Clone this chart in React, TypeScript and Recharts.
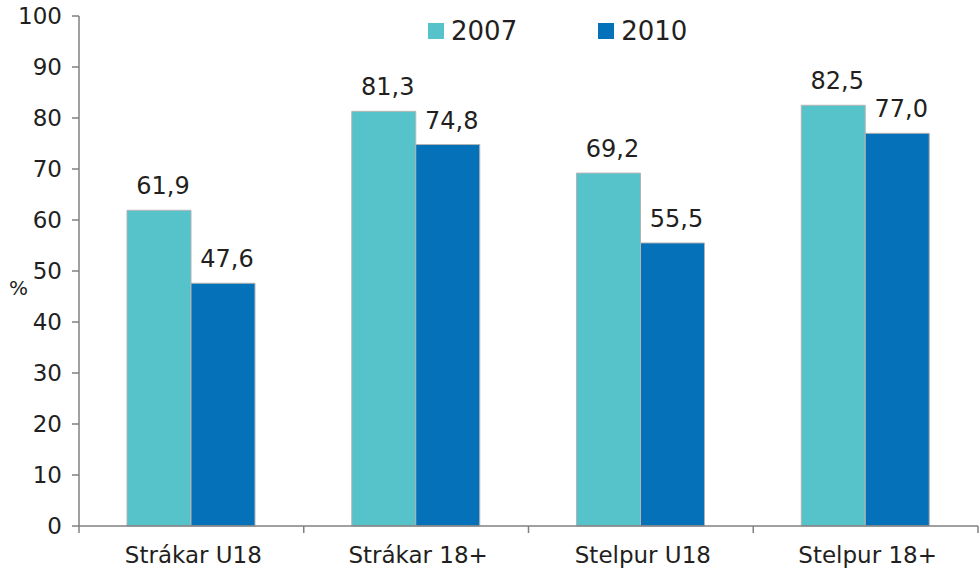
import React from 'react';
import { BarChart, Bar, XAxis, YAxis, LabelList, Legend } from 'recharts';

const categories = ['Strákar U18', 'Strákar 18+', 'Stelpur U18', 'Stelpur 18+'];
const values2007 = [61.9, 81.3, 69.2, 82.5];
const values2010 = [47.6, 74.8, 55.5, 77.0];
const yTicks = [0, 10, 20, 30, 40, 50, 60, 70, 80, 90, 100];
const seriesNames = ['2007', '2010'];
const seriesColors = ['#56C3CB', '#0571B8'];

const data = categories.map((c, i) => ({ name: c, y2007: values2007[i], y2010: values2010[i] }));

const W = 979;
const H = 579;
const PLOT_LEFT = 79;
const PLOT_RIGHT = 978;
const FONT = 'DejaVu Sans, sans-serif';
const TEXT = '#231f20';
const AXIS = '#808080';

const fmt = (v: any) => Number(v).toFixed(1).replace('.', ',');

const halfBand = (PLOT_RIGHT - PLOT_LEFT) / categories.length / 2;

const XTick = (props: any) => {
  const { x, y, payload, index } = props;
  const lines = [x - halfBand];
  if (index === categories.length - 1) lines.push(x + halfBand);
  return (
    <g>
      {lines.map((lx, i) => (
        <line key={i} x1={lx} x2={lx} y1={y - 8} y2={y - 1} stroke={AXIS} strokeWidth={1.5} />
      ))}
      <text x={x + 2} y={y + 29} textAnchor="middle" fill={TEXT} fontSize={23} fontFamily={FONT}>
        {payload.value}
      </text>
    </g>
  );
};

const LegendContent = () => (
  <div style={{ display: 'flex', alignItems: 'center', fontFamily: FONT, fontSize: 26, color: TEXT }}>
    {seriesNames.map((n, i) => (
      <div key={n} style={{ display: 'flex', alignItems: 'center', marginRight: i === 0 ? 81 : 0 }}>
        <span style={{ display: 'inline-block', width: 16, height: 16, background: seriesColors[i], marginRight: 7 }} />
        <span style={{ lineHeight: '30px' }}>{n}</span>
      </div>
    ))}
  </div>
);

export default function App() {
  return (
    <div style={{ position: 'absolute', left: 0, top: 0, width: W, height: H, background: '#fff' }}>
      <BarChart
        width={W}
        height={H}
        data={data}
        margin={{ top: 16, right: W - PLOT_RIGHT, bottom: 0, left: 0 }}
        barGap={0}
        barSize={64}
      >
        <XAxis
          dataKey="name"
          height={53}
          axisLine={{ stroke: AXIS, strokeWidth: 1.5 }}
          tickLine={false}
          tick={<XTick />}
          interval={0}
        />
        <YAxis
          width={PLOT_LEFT}
          domain={[0, 100]}
          ticks={yTicks}
          interval={0}
          axisLine={{ stroke: AXIS, strokeWidth: 1.5 }}
          tickLine={{ stroke: AXIS, strokeWidth: 1.5 }}
          tickSize={7}
          tickMargin={10}
          tick={{ fill: TEXT, fontSize: 23, fontFamily: FONT }}
          label={{ value: '%', position: 'insideLeft', angle: 0, offset: 9, dy: 17, fill: TEXT, fontSize: 20, fontFamily: FONT }}
        />
        <Legend
          layout="horizontal"
          verticalAlign="middle"
          align="center"
          content={<LegendContent />}
          wrapperStyle={{ position: 'absolute', top: 16, left: 428, width: 300, height: 30 }}
        />
        <Bar dataKey="y2007" name="2007" fill={seriesColors[0]} stroke="#b4b4b4" strokeWidth={1} isAnimationActive={false}>
          <LabelList dataKey="y2007" position="top" offset={16} dx={4} formatter={fmt} fill={TEXT} fontSize={24} fontFamily={FONT} />
        </Bar>
        <Bar dataKey="y2010" name="2010" fill={seriesColors[1]} stroke="#b4b4b4" strokeWidth={1} isAnimationActive={false}>
          <LabelList dataKey="y2010" position="top" offset={16} dx={4} formatter={fmt} fill={TEXT} fontSize={24} fontFamily={FONT} />
        </Bar>
      </BarChart>
    </div>
  );
}
